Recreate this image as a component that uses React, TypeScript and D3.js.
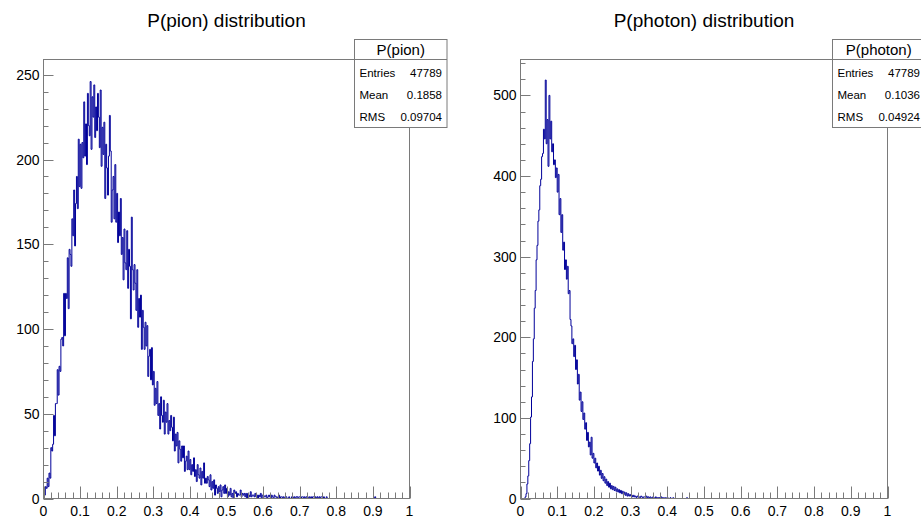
import React from "react";
import * as d3 from "d3";

const W = 921;
const H = 520;
const NBINS = 400;

const xTickLabels = [0, 0.1, 0.2, 0.3, 0.4, 0.5, 0.6, 0.7, 0.8, 0.9, 1];
const pionYTicks = [0, 50, 100, 150, 200, 250];
const photonYTicks = [0, 100, 200, 300, 400, 500];
const statsLabels = ["Entries", "Mean", "RMS"];
const pionStats = ["47789", "0.1858", "0.09704"];
const photonStats = ["47789", "0.1036", "0.04924"];

// bin contents, 400 bins over [0,1]; bins past the end of each list are empty
const pionCounts = [
  6, 2, 7, 6, 12, 7, 15, 12, 30, 28,
  32, 49, 37, 56, 56, 76, 61, 78, 75, 94,
  95, 90, 121, 96, 121, 118, 142, 112, 147, 144,
  137, 165, 155, 182, 149, 174, 190, 171, 212, 184,
  209, 183, 210, 201, 234, 202, 221, 197, 239, 220,
  214, 246, 206, 237, 225, 244, 213, 231, 217, 239,
  225, 207, 241, 196, 219, 203, 222, 177, 209, 195,
  179, 202, 226, 205, 163, 182, 190, 165, 197, 163,
  180, 151, 169, 155, 177, 144, 154, 129, 159, 139,
  135, 158, 124, 147, 137, 106, 166, 135, 123, 138,
  127, 111, 135, 101, 118, 107, 120, 88, 111, 101,
  88, 104, 90, 102, 72, 84, 88, 70, 89, 67,
  75, 55, 65, 56, 69, 49, 56, 41, 60, 49,
  45, 58, 38, 51, 45, 56, 38, 46, 40, 49,
  42, 34, 48, 28, 38, 31, 39, 21, 34, 29,
  22, 31, 24, 31, 16, 22, 25, 17, 28, 17,
  23, 14, 20, 16, 24, 13, 17, 10, 20, 14,
  12, 18, 8, 16, 12, 21, 9, 12, 9, 13,
  11, 7, 14, 5, 10, 6, 11, 2, 8, 6,
  3, 7, 4, 8, 1, 5, 7, 3, 8, 3,
  6, 1, 4, 2, 6, 1, 3, 0, 5, 3,
  4, 1, 3, 2, 2, 5, 1, 3, 2, 3,
  1, 3, 0, 3, 2, 1, 4, 1, 2, 2,
  1, 3, 1, 2, 0, 2, 1, 3, 0, 2,
  2, 1, 1, 2, 0, 1, 2, 1, 0, 2,
  1, 0, 2, 1, 1, 0, 1, 2, 0, 1,
  1, 0, 1, 0, 1, 1, 0, 0, 1, 0,
  0, 1, 1, 0, 1, 0, 1, 1, 0, 1,
  1, 0, 1, 1, 0, 1, 0, 1, 1, 0,
  1, 0, 1, 0, 1, 1, 0, 1, 0, 1,
  0, 1, 0, 1, 1, 0, 1, 0, 0, 1,
  0, 0, 0, 0, 0, 0, 0, 0, 0, 0,
  0, 0, 0, 0, 0, 0, 0, 0, 0, 0,
  0, 0, 0, 0, 0, 0, 0, 0, 0, 0,
  0, 0, 0, 0, 0, 0, 0, 0, 0, 0,
  0, 0, 0, 0, 0, 0, 0, 0, 0, 0,
  0, 0, 1,
];

const photonCounts = [
  0, 0, 0, 0, 0, 2, 6, 18, 28, 47,
  68, 101, 126, 170, 198, 236, 258, 296, 314, 344,
  358, 388, 396, 424, 428, 458, 446, 519, 440, 470,
  412, 500, 446, 468, 430, 440, 414, 420, 398, 410,
  380, 402, 352, 372, 330, 352, 308, 318, 284, 296,
  272, 288, 254, 258, 222, 214, 192, 198, 176, 190,
  160, 172, 142, 154, 122, 132, 108, 120, 98, 106,
  86, 94, 72, 82, 64, 70, 54, 76, 50, 56,
  44, 50, 38, 44, 34, 40, 29, 35, 25, 31,
  22, 27, 19, 24, 16, 21, 14, 19, 12, 16,
  11, 15, 10, 14, 9, 12, 8, 11, 7, 10,
  6, 9, 5, 8, 4, 7, 3, 6, 3, 5,
  3, 4, 2, 4, 2, 3, 1, 3, 2, 2,
  1, 3, 2, 1, 2, 2, 1, 3, 1, 2,
  1, 2, 1, 1, 2, 1, 0, 2, 1, 1,
  1, 1, 0, 2, 1, 1, 0, 1, 1, 0,
  1, 0, 0, 1, 0, 0, 1, 0, 0, 0,
  0, 0, 0, 0, 0, 0, 0, 0, 0, 0, 0, 1,
];

const FONT = "'Liberation Sans', Arial, Helvetica, sans-serif";
const AXIS = "#7a7a7a";
const HIST = "#000099";

type PanelProps = {
  x0: number;
  x1: number;
  y0: number;
  y1: number;
  yMax: number;
  yMinor: number;
  yMajorTicks: number[];
  counts: number[];
  title: string;
  statsName: string;
  statsValues: string[];
  boxX: number;
};

function Panel(p: PanelProps) {
  const x = d3.scaleLinear().domain([0, 1]).range([p.x0, p.x1]);
  const y = d3.scaleLinear().domain([0, p.yMax]).range([p.y1, p.y0]);
  const bw = 1 / NBINS;

  const pts: [number, number][] = [];
  for (let i = 0; i < NBINS; i++) {
    const v = p.counts[i] ?? 0;
    pts.push([x(i * bw), y(v)]);
    pts.push([x((i + 1) * bw), y(v)]);
  }
  const path = d3.line()(pts) || "";

  const xMinor = x.ticks(50);
  const isMajorX = (t: number) => Math.abs(t * 10 - Math.round(t * 10)) < 1e-6;
  const yMinorTicks = d3.range(0, p.yMax, p.yMinor);
  const majorSet = new Set(p.yMajorTicks);

  const boxW = 92.5;
  const cx = (p.x0 + p.x1) / 2;
  const clipId = "clip" + Math.round(p.x0);

  return (
    <g>
      <defs>
        <clipPath id={clipId}>
          <rect x={p.x0} y={p.y0} width={p.x1 - p.x0} height={p.y1 - p.y0 + 1} />
        </clipPath>
      </defs>
      <text x={cx} y={27.3} textAnchor="middle" fontFamily={FONT} fontSize={19} fill="#000">
        {p.title}
      </text>
      <path d={path} fill="none" stroke={HIST} strokeWidth={1} clipPath={`url(#${clipId})`} />
      <rect x={p.x0} y={p.y0} width={p.x1 - p.x0} height={p.y1 - p.y0} fill="none" stroke={AXIS} strokeWidth={1} />
      {xMinor.map((t, i) => (
        <line key={"xt" + i} x1={Math.round(x(t)) + 0.5} x2={Math.round(x(t)) + 0.5} y1={p.y1} y2={p.y1 - (isMajorX(t) ? 12 : 6)} stroke={AXIS} strokeWidth={1} />
      ))}
      {xTickLabels.map((t, i) => (
        <text key={"xl" + i} x={x(t)} y={515.5} textAnchor="middle" fontFamily={FONT} fontSize={14} fill="#000">
          {d3.format("~g")(t)}
        </text>
      ))}
      {yMinorTicks.map((t, i) => (
        <line key={"yt" + i} x1={p.x0} x2={p.x0 + (majorSet.has(t) ? 10 : 5)} y1={Math.round(y(t)) + 0.5} y2={Math.round(y(t)) + 0.5} stroke={AXIS} strokeWidth={1} />
      ))}
      {p.yMajorTicks.map((t, i) => (
        <text key={"yl" + i} x={p.x0 - 4} y={y(t) + 5} textAnchor="end" fontFamily={FONT} fontSize={14} fill="#000">
          {t}
        </text>
      ))}
      <g>
        <rect x={p.boxX} y={39.5} width={boxW} height={88} fill="#fff" stroke={AXIS} strokeWidth={1} />
        <line x1={p.boxX} x2={p.boxX + boxW} y1={59.5} y2={59.5} stroke={AXIS} strokeWidth={1} />
        <text x={p.boxX + boxW / 2} y={54.5} textAnchor="middle" fontFamily={FONT} fontSize={15} fill="#000">
          {p.statsName}
        </text>
        {statsLabels.map((lab, i) => (
          <g key={"s" + i}>
            <text x={p.boxX + 5} y={76.8 + i * 22.3} fontFamily={FONT} fontSize={11.5} fill="#000">
              {lab}
            </text>
            <text x={p.boxX + boxW - 5} y={76.8 + i * 22.3} textAnchor="end" fontFamily={FONT} fontSize={11.5} fill="#000">
              {p.statsValues[i]}
            </text>
          </g>
        ))}
      </g>
    </g>
  );
}

export default function App() {
  return (
    <svg
      width={W}
      height={H}
      viewBox={`0 0 ${W} ${H}`}
      style={{ position: "absolute", left: 0, top: 0, background: "#fff" }}
    >
      <rect x={0} y={0} width={W} height={H} fill="#fff" />
      <Panel
        x0={43.5}
        x1={409.5}
        y0={59.5}
        y1={498.5}
        yMax={259}
        yMinor={10}
        yMajorTicks={pionYTicks}
        counts={pionCounts}
        title="P(pion) distribution"
        statsName="P(pion)"
        statsValues={pionStats}
        boxX={354.5}
      />
      <Panel
        x0={520.5}
        x1={887.5}
        y0={59.5}
        y1={498.5}
        yMax={544.5}
        yMinor={20}
        yMajorTicks={photonYTicks}
        counts={photonCounts}
        title="P(photon) distribution"
        statsName="P(photon)"
        statsValues={photonStats}
        boxX={832.5}
      />
    </svg>
  );
}
